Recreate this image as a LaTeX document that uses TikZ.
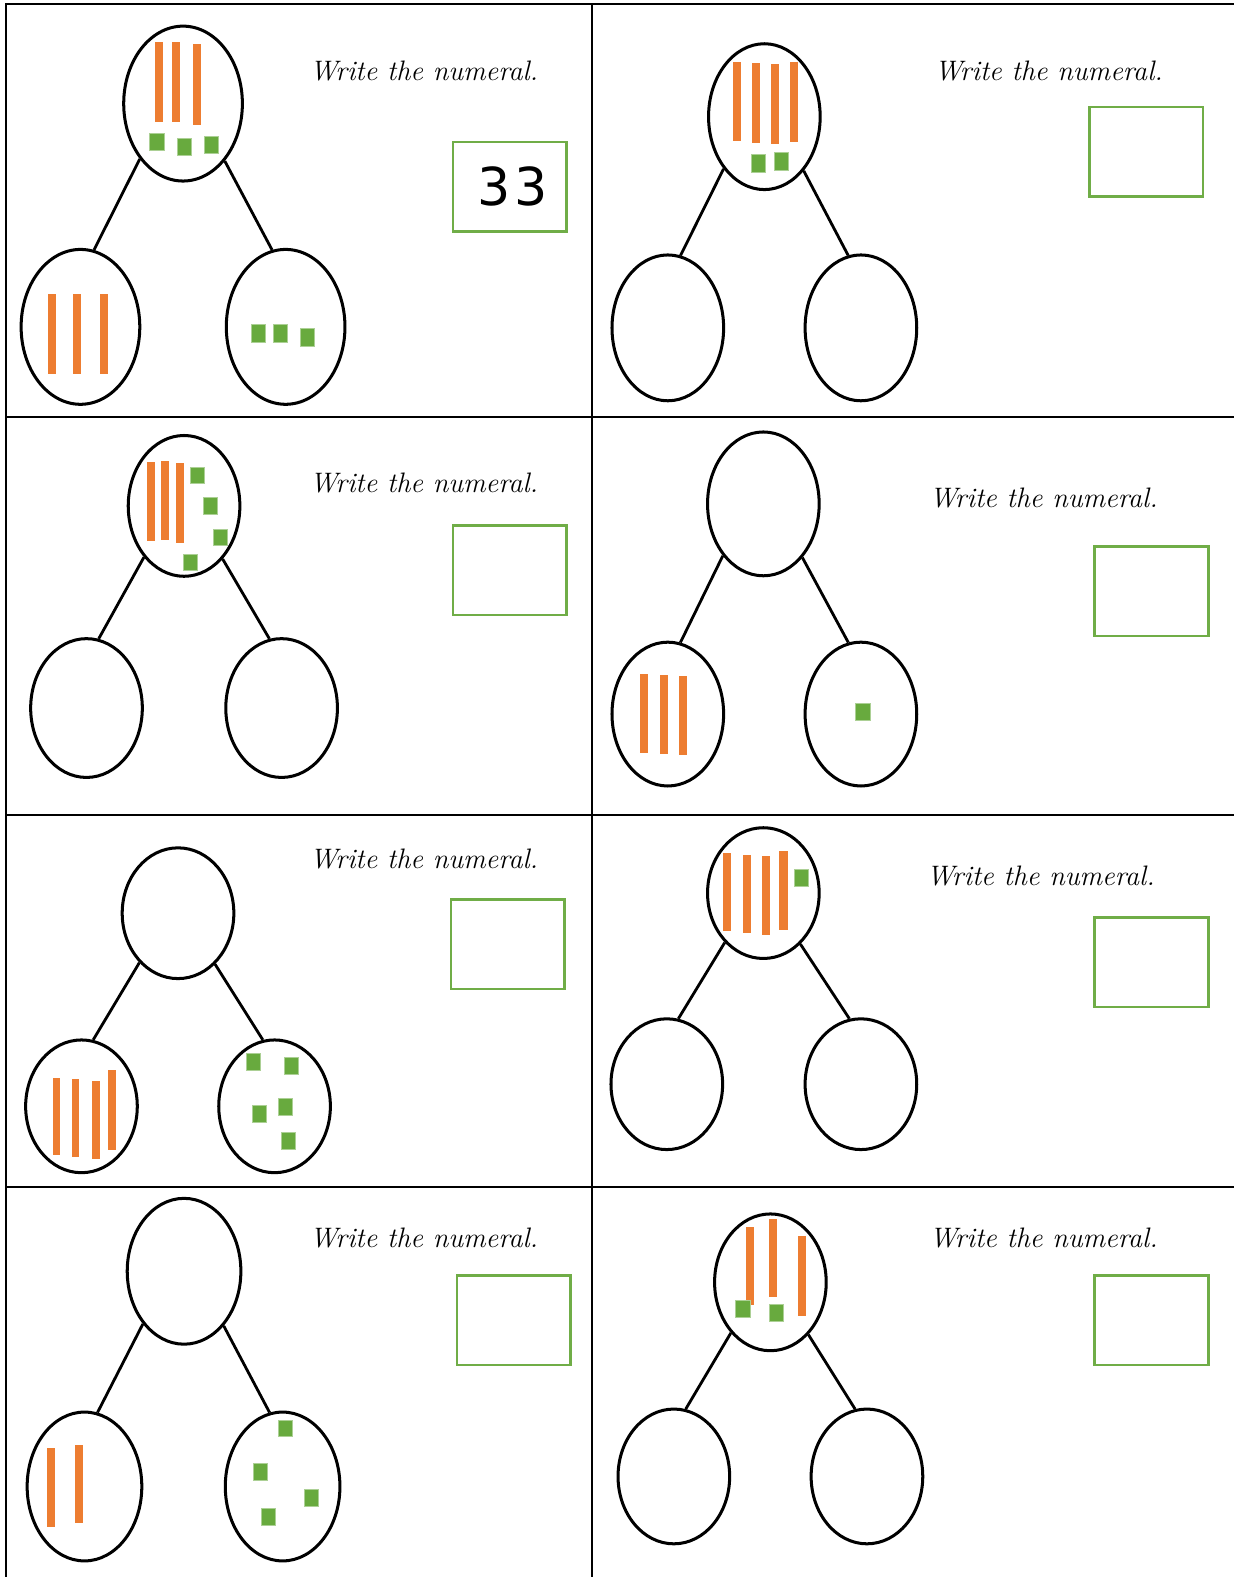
\documentclass[tikz,border=0pt]{standalone}
\usepackage{fontspec}
\usetikzlibrary{shapes.geometric}
\newfontfamily\digitfont{DejaVu Sans}
\definecolor{tenorange}{RGB}{237,125,49}
\definecolor{onegreen}{RGB}{104,170,62}
\definecolor{boxgreen}{RGB}{112,173,71}

\tikzset{
  part/.style={ellipse, draw, line width=3pt, inner sep=0pt, minimum width=111pt, minimum height=143pt},
  stem/.style={line width=2.8pt},
  ten/.style={fill=tenorange},
  one/.style={fill=onegreen, draw=onegreen!55!white, line width=0.8pt},
  answer/.style={draw=boxgreen, line width=2.6pt, anchor=north west, inner sep=0pt, minimum width=113pt, minimum height=89pt},
  prompt/.style={font=\fontsize{28}{34}\selectfont\itshape, anchor=base west, inner sep=0pt},
  grid/.style={line width=2.2pt}
}

\begin{document}
\begin{tikzpicture}[x=1pt, y=-1pt]
	\useasboundingbox[fill=white] (0,0) rectangle (1227,1568);
	
	% table lines
	\draw[grid] (6,1568) -- (6,4) -- (1227,4);
	\draw[grid] (589,4) -- (589,1568);
	\draw[grid] (6,415) -- (1227,415);
	\draw[grid] (6,810) -- (1227,810);
	\draw[grid] (6,1180) -- (1227,1180);
	
	% cell 1
	\node[part, minimum width=118pt, minimum height=154pt] (w1) at (182,103) {};
	\node[part, minimum width=118pt, minimum height=154pt] (l1) at (80,325) {};
	\node[part, minimum width=118pt, minimum height=154pt] (r1) at (284,325) {};
	\draw[stem] (w1.232) -- (l1.80);
	\draw[stem] (w1.306) -- (r1.100);
	\fill[ten] (154,42) rectangle (162,121);
	\fill[ten] (171,42) rectangle (179,121);
	\fill[ten] (192,44) rectangle (200,124);
	\filldraw[one] (149,133) rectangle (163,150);
	\filldraw[one] (176,138) rectangle (190,155);
	\filldraw[one] (203,136) rectangle (217,153);
	\fill[ten] (48,292) rectangle (56,372);
	\fill[ten] (73,292) rectangle (81,372);
	\fill[ten] (99,292) rectangle (107,372);
	\filldraw[one] (250,323) rectangle (264,340);
	\filldraw[one] (272,323) rectangle (286,340);
	\filldraw[one] (299,327) rectangle (313,344);
	\node[prompt] (t1) at (308,80) {Write the numeral.};
	\node[answer] (b1) at (449,140) {};
	\node[font=\digitfont\fontsize{52}{60}\selectfont, xshift=3pt] (n1) at (b1.center) {3\kern4pt3};
	
	% cell 2
	\node[part, minimum height=145pt] (w2) at (760,116) {};
	\node[part, minimum height=145pt] (l2) at (664,326) {};
	\node[part, minimum height=145pt] (r2) at (856,326) {};
	\draw[stem] (w2.232) -- (l2.80);
	\draw[stem] (w2.306) -- (r2.100);
	\fill[ten] (729,62) rectangle (737,140);
	\fill[ten] (748,63) rectangle (756,142);
	\fill[ten] (767,64) rectangle (775,143);
	\fill[ten] (785,62) rectangle (793,141);
	\filldraw[one] (747,154) rectangle (761,171);
	\filldraw[one] (770,152) rectangle (784,169);
	\node[prompt] (t2) at (929,80) {Write the numeral.};
	\node[answer] (b2) at (1082,105) {};
	
	% cell 3
	\node[part, minimum height=140pt] (w3) at (183,503) {};
	\node[part, minimum height=138pt] (l3) at (86,704) {};
	\node[part, minimum height=138pt] (r3) at (280,704) {};
	\draw[stem] (w3.232) -- (l3.80);
	\draw[stem] (w3.306) -- (r3.100);
	\fill[ten] (146,459) rectangle (154,538);
	\fill[ten] (160,458) rectangle (168,537);
	\fill[ten] (175,460) rectangle (183,540);
	\filldraw[one] (189,465) rectangle (203,481);
	\filldraw[one] (202,495) rectangle (216,511);
	\filldraw[one] (212,526) rectangle (226,542);
	\filldraw[one] (182,551) rectangle (196,567);
	\node[prompt] (t3) at (308,490) {Write the numeral.};
	\node[answer] (b3) at (449,521) {};
	
	% cell 4
	\node[part] (w4) at (759,501) {};
	\node[part] (l4) at (664,710) {};
	\node[part] (r4) at (856,710) {};
	\draw[stem] (w4.232) -- (l4.80);
	\draw[stem] (w4.306) -- (r4.100);
	\fill[ten] (636,670) rectangle (644,749);
	\fill[ten] (656,671) rectangle (664,750);
	\fill[ten] (675,672) rectangle (683,751);
	\filldraw[one] (851,699) rectangle (865,716);
	\node[prompt] (t4) at (924,505) {Write the numeral.};
	\node[answer] (b4) at (1087,542) {};
	
	% cell 5
	\node[part, minimum height=130pt] (w5) at (177,908) {};
	\node[part, minimum height=132pt] (l5) at (81,1100) {};
	\node[part, minimum height=132pt] (r5) at (273,1100) {};
	\draw[stem] (w5.232) -- (l5.80);
	\draw[stem] (w5.306) -- (r5.100);
	\fill[ten] (53,1072) rectangle (60,1148);
	\fill[ten] (72,1073) rectangle (79,1150);
	\fill[ten] (91,1075) rectangle (99,1152);
	\fill[ten] (107,1064) rectangle (115,1143);
	\filldraw[one] (245,1047) rectangle (259,1064);
	\filldraw[one] (283,1051) rectangle (297,1068);
	\filldraw[one] (251,1099) rectangle (265,1116);
	\filldraw[one] (277,1092) rectangle (291,1109);
	\filldraw[one] (280,1126) rectangle (294,1143);
	\node[prompt] (t5) at (308,864) {Write the numeral.};
	\node[answer] (b5) at (447,893) {};
	
	% cell 6
	\node[part, minimum height=130pt] (w6) at (759,888) {};
	\node[part, minimum height=130pt] (l6) at (663,1078) {};
	\node[part, minimum height=130pt] (r6) at (856,1078) {};
	\draw[stem] (w6.232) -- (l6.80);
	\draw[stem] (w6.306) -- (r6.100);
	\fill[ten] (719,848) rectangle (727,926);
	\fill[ten] (739,850) rectangle (747,928);
	\fill[ten] (758,851) rectangle (766,930);
	\fill[ten] (775,846) rectangle (783,925);
	\filldraw[one] (790,864) rectangle (804,881);
	\node[prompt] (t6) at (921,880) {Write the numeral.};
	\node[answer] (b6) at (1087,911) {};
	
	% cell 7
	\node[part, minimum width=113pt, minimum height=145pt] (w7) at (183,1264) {};
	\node[part, minimum width=114pt, minimum height=148pt] (l7) at (84,1478) {};
	\node[part, minimum width=114pt, minimum height=148pt] (r7) at (281,1478) {};
	\draw[stem] (w7.232) -- (l7.80);
	\draw[stem] (w7.306) -- (r7.100);
	\fill[ten] (47,1440) rectangle (55,1518);
	\fill[ten] (75,1437) rectangle (83,1514);
	\filldraw[one] (277,1412) rectangle (291,1428);
	\filldraw[one] (252,1455) rectangle (266,1472);
	\filldraw[one] (303,1481) rectangle (317,1498);
	\filldraw[one] (260,1500) rectangle (274,1517);
	\node[prompt] (t7) at (308,1240) {Write the numeral.};
	\node[answer] (b7) at (453,1267) {};
	
	% cell 8
	\node[part, minimum height=136pt] (w8) at (766,1275) {};
	\node[part, minimum height=134pt] (l8) at (670,1468) {};
	\node[part, minimum height=134pt] (r8) at (862,1468) {};
	\draw[stem] (w8.232) -- (l8.80);
	\draw[stem] (w8.306) -- (r8.100);
	\fill[ten] (742,1220) rectangle (750,1298);
	\fill[ten] (765,1212) rectangle (773,1290);
	\fill[ten] (793,1229) rectangle (801,1308);
	\filldraw[one] (731,1293) rectangle (746,1310);
	\filldraw[one] (765,1297) rectangle (779,1314);
	\node[prompt] (t8) at (924,1240) {Write the numeral.};
	\node[answer] (b8) at (1087,1267) {};
\end{tikzpicture}
\end{document}
